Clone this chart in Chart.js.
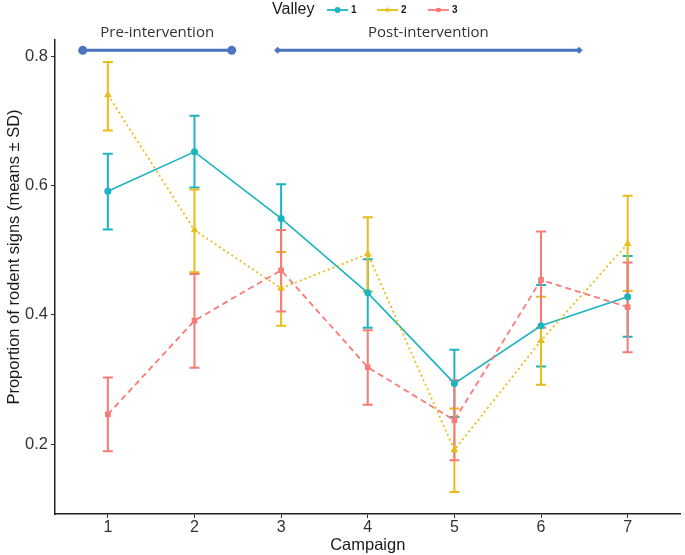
<!DOCTYPE html>
<html>
<head>
<meta charset="utf-8">
<script src="https://cdn.jsdelivr.net/npm/chart.js@4.4.1/dist/chart.umd.min.js"></script>
<style>
  html, body { margin: 0; padding: 0; background: #ffffff; }
  #wrap { width: 685px; height: 555px; position: relative; }
</style>
</head>
<body>
<div id="wrap"><canvas id="c" width="685" height="555"></canvas></div>
<script>
// ---- data ----
const campaigns = [1, 2, 3, 4, 5, 6, 7];
const valleyNames = ['1', '2', '3'];

const valley1Mean = [0.591, 0.652, 0.549, 0.434, 0.294, 0.383, 0.428];
const valley1Lo   = [0.532, 0.597, 0.497, 0.380, 0.242, 0.320, 0.366];
const valley1Hi   = [0.649, 0.708, 0.602, 0.486, 0.346, 0.446, 0.491];

const valley2Mean = [0.740, 0.531, 0.441, 0.494, 0.191, 0.360, 0.510];
const valley2Lo   = [0.685, 0.466, 0.383, 0.436, 0.126, 0.292, 0.437];
const valley2Hi   = [0.791, 0.594, 0.497, 0.551, 0.255, 0.428, 0.584];

const valley3Mean = [0.246, 0.391, 0.469, 0.319, 0.237, 0.454, 0.412];
const valley3Lo   = [0.189, 0.318, 0.405, 0.261, 0.175, 0.380, 0.342];
const valley3Hi   = [0.303, 0.463, 0.531, 0.376, 0.299, 0.529, 0.481];

const yTicks = [0.2, 0.4, 0.6, 0.8];
const xTicks = [1, 2, 3, 4, 5, 6, 7];
const yTitle = 'Proportion of rodent signs (means ± SD)';
const xTitle = 'Campaign';

const phaseLabels = ['Pre-intervention', 'Post-intervention'];
const phaseStart  = [0.71, 2.96];
const phaseEnd    = [2.43, 6.44];
const phaseLevel  = 0.809;

// ---- styling ----
const colors = ['#1CB4C1', '#E8BC1A', '#F97A76'];
const dashes = [[], [2, 3], [6, 4]];
const pstyles = ['circle', 'triangle', 'rect'];
const pradius = [3.5, 4.5, 4];
const phaseColor = '#4A75BE';
const phaseEnds = ['circle', 'rectRot'];
const FONT = '"Liberation Sans", Arial, sans-serif';

const means = [valley1Mean, valley2Mean, valley3Mean];
const los = [valley1Lo, valley2Lo, valley3Lo];
const his = [valley1Hi, valley2Hi, valley3Hi];

const datasets = [];
// phase bars
phaseLabels.forEach((lab, i) => {
  datasets.push({
    label: lab,
    isPhase: true,
    data: [{x: phaseStart[i], y: phaseLevel}, {x: phaseEnd[i], y: phaseLevel}],
    borderColor: phaseColor,
    backgroundColor: phaseColor,
    borderWidth: 3,
    pointStyle: phaseEnds[i],
    pointRadius: i === 0 ? 4.5 : 3.5,
    pointBorderWidth: 0,
    clip: false,
    order: 5
  });
});
valleyNames.forEach((name, k) => {
  datasets.push({
    label: name,
    data: campaigns.map((c, j) => ({x: c, y: means[k][j]})),
    lo: los[k],
    hi: his[k],
    borderColor: colors[k],
    backgroundColor: colors[k],
    borderWidth: k === 0 ? 1.6 : 1.8,
    borderDash: dashes[k],
    pointStyle: pstyles[k],
    pointRadius: pradius[k],
    pointBorderWidth: 0,
    tension: 0,
    order: 3 - k
  });
});

const errorBars = {
  id: 'errorBars',
  beforeDatasetsDraw(chart) {
    const {ctx, scales: {x, y}} = chart;
    ctx.save();
    chart.data.datasets.forEach((ds) => {
      if (!ds.lo) return;
      ctx.strokeStyle = ds.borderColor;
      ctx.lineWidth = 2;
      ctx.setLineDash([]);
      ds.data.forEach((p, j) => {
        const px = x.getPixelForValue(p.x);
        const yl = y.getPixelForValue(ds.lo[j]);
        const yh = y.getPixelForValue(ds.hi[j]);
        ctx.beginPath();
        ctx.moveTo(px, yl); ctx.lineTo(px, yh);
        ctx.moveTo(px - 5, yl); ctx.lineTo(px + 5, yl);
        ctx.moveTo(px - 5, yh); ctx.lineTo(px + 5, yh);
        ctx.stroke();
      });
    });
    ctx.restore();
  }
};

const phaseText = {
  id: 'phaseText',
  afterDatasetsDraw(chart) {
    const {ctx, scales: {x, y}} = chart;
    ctx.save();
    ctx.fillStyle = '#333333';
    ctx.font = '15px "Open Sans", sans-serif';
    ctx.textAlign = 'center';
    ctx.textBaseline = 'middle';
    phaseLabels.forEach((lab, i) => {
      const cx = (x.getPixelForValue(phaseStart[i]) + x.getPixelForValue(phaseEnd[i])) / 2;
      const cy = y.getPixelForValue(phaseLevel) - 18;
      ctx.fillText(lab, cx, cy);
    });
    ctx.restore();
  }
};

const yTitlePlugin = {
  id: 'yTitlePlugin',
  afterDraw(chart) {
    const {ctx} = chart;
    ctx.save();
    ctx.translate(14, 257);
    ctx.rotate(-Math.PI / 2);
    ctx.fillStyle = '#1a1a1a';
    ctx.font = '16.5px ' + FONT;
    ctx.textAlign = 'center';
    ctx.textBaseline = 'middle';
    ctx.fillText(yTitle, 0, 0);
    ctx.restore();
  }
};

const customLegend = {
  id: 'customLegend',
  afterDraw(chart) {
    const {ctx} = chart;
    ctx.save();
    ctx.fillStyle = '#1a1a1a';
    ctx.font = '16px ' + FONT;
    ctx.textBaseline = 'middle';
    ctx.textAlign = 'left';
    ctx.fillText('Valley', 272, 10);
    const starts = [327, 377, 428];
    const vds = chart.data.datasets.filter(d => d.lo);
    vds.forEach((ds, k) => {
      const x0 = starts[k];
      ctx.strokeStyle = ds.borderColor;
      ctx.lineWidth = 1.8;
      ctx.setLineDash([]);
      ctx.beginPath(); ctx.moveTo(x0, 10); ctx.lineTo(x0 + 21, 10); ctx.stroke();
      ctx.fillStyle = ds.borderColor;
      Chart.helpers.drawPoint(ctx, {pointStyle: ds.pointStyle, radius: 3, rotation: 0, borderWidth: 0}, x0 + 10.5, 10);
      ctx.fillStyle = '#1a1a1a';
      ctx.font = 'bold 10px ' + FONT;
      ctx.fillText(ds.label, x0 + 24, 10);
    });
    ctx.restore();
  }
};

new Chart(document.getElementById('c'), {
  type: 'line',
  data: { datasets },
  options: {
    responsive: false,
    animation: false,
    layout: { padding: { top: 40, right: 2, bottom: 0, left: 0 } },
    plugins: { legend: { display: false }, tooltip: { enabled: false } },
    scales: {
      x: {
        type: 'linear',
        min: 0.39, max: 7.61,
        afterBuildTicks: (s) => { s.ticks = xTicks.map(v => ({value: v})); },
        afterFit: (s) => { s.height = 41; },
        grid: { drawOnChartArea: false, drawTicks: true, tickLength: 4, color: '#333333', tickWidth: 1 },
        border: { display: true, color: '#222222', width: 1.5 },
        ticks: { color: '#333333', font: { size: 16, family: FONT }, padding: 0 },
        title: { display: true, text: xTitle, color: '#1a1a1a', font: { size: 16.5, family: FONT }, padding: { top: -3, bottom: 0 } }
      },
      y: {
        type: 'linear',
        min: 0.092, max: 0.825,
        afterBuildTicks: (s) => { s.ticks = yTicks.map(v => ({value: v})); },
        afterFit: (s) => { s.width = 55; },
        grid: { drawOnChartArea: false, drawTicks: true, tickLength: 4, color: '#333333', tickWidth: 1 },
        border: { display: true, color: '#222222', width: 1.5 },
        ticks: { color: '#333333', font: { size: 16.5, family: FONT }, padding: 3, callback: (v) => v.toFixed(1) },
        title: { display: false }
      }
    }
  },
  plugins: [errorBars, phaseText, yTitlePlugin, customLegend]
});
</script>
</body>
</html>
